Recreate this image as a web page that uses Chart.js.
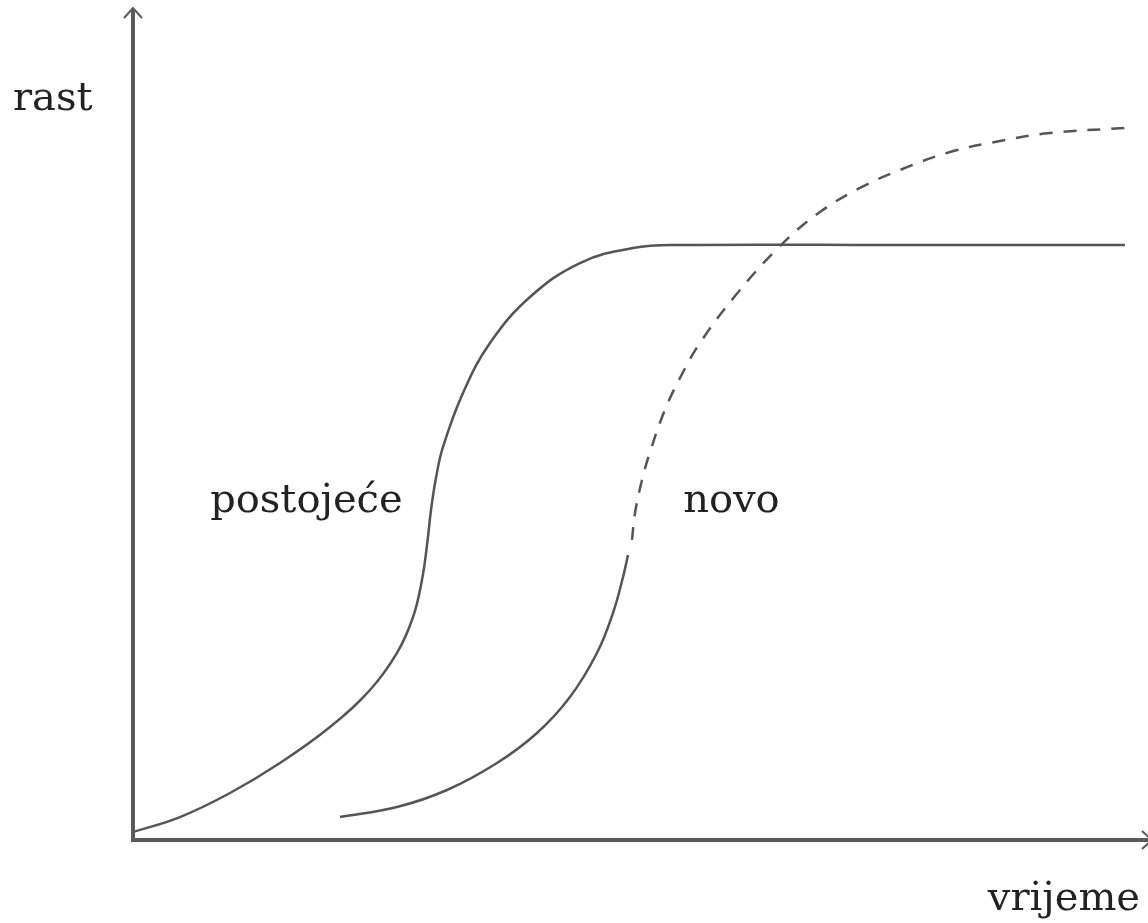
<!DOCTYPE html>
<html>
<head>
<meta charset="utf-8">
<script src="https://cdn.jsdelivr.net/npm/chart.js@4/dist/chart.umd.min.js"></script>
<style>
  body { margin: 0; background: #fff; }
  #wrap { width: 1148px; height: 923px; }
</style>
</head>
<body>
<div id="wrap"><canvas id="myChart" width="1148" height="923"></canvas></div>
<script>
// existing product curve (solid S-curve that levels off)
var postojeceX = [0, 4.63, 9.56, 14.48, 19.41, 23.35, 26.01, 27.59, 28.47, 28.97, 29.36, 29.85, 30.54, 32.51, 35.17, 39.11, 44.04, 49.26, 53.89, 75.57, 97.73];
var postojeceY = [0.96, 2.76, 5.65, 9.25, 13.58, 18.03, 22.48, 26.80, 31.25, 35.46, 39.66, 43.51, 47.24, 53.73, 59.74, 65.26, 69.35, 71.15, 71.51, 71.51, 71.51];

// new product, drawn part (solid)
var novoX = [20.39, 26.01, 30.94, 35.86, 39.80, 43.05, 45.71, 47.29, 48.28, 48.77];
var novoY = [2.76, 3.97, 6.01, 9.25, 12.86, 17.19, 22.48, 27.28, 31.61, 34.25];

// new product, expected part (dashed)
var novoDashX = [49.16, 49.46, 50.15, 50.94, 52.32, 53.89, 55.86, 59.31, 63.74, 67.68, 71.63, 75.57, 80.49, 85.42, 90.34, 97.73];
var novoDashY = [36.06, 39.30, 43.27, 46.63, 51.44, 55.53, 59.74, 65.38, 71.39, 75.48, 78.37, 80.53, 82.69, 84.01, 84.98, 85.58];

var labels = ["postojeće", "novo"]; // curve labels
var axisLabels = ["rast", "vrijeme"]; // y axis, x axis

function toPoints(xs, ys) { // zip the two arrays into {x,y}
    var pts = [];
    for (var i = 0; i < xs.length; i++) {
        pts.push({x: xs[i], y: ys[i]});
    }
    return pts;
}

var lineColor = '#555555';

// draws the two arrows and the texts
var axesPlugin = {
    id: 'axesPlugin',
    afterDraw: function(chart) {
        var c = chart.ctx;
        var a = chart.chartArea;
        var xs = chart.scales.x, ys = chart.scales.y;
        c.save();
        c.strokeStyle = '#5a5a5a';
        c.lineWidth = 4;
        c.lineCap = 'butt';
        // y axis
        c.beginPath();
        c.moveTo(a.left, a.bottom + 2);
        c.lineTo(a.left, a.top + 1);
        c.stroke();
        c.lineWidth = 2;
        c.beginPath();
        c.moveTo(a.left - 9, a.top + 10);
        c.lineTo(a.left, a.top);
        c.lineTo(a.left + 9, a.top + 10);
        c.stroke();
        // x axis
        c.lineWidth = 4;
        c.beginPath();
        c.moveTo(a.left - 2, a.bottom);
        c.lineTo(a.right + 4, a.bottom);
        c.stroke();
        c.lineWidth = 2;
        c.beginPath();
        c.moveTo(a.right - 6, a.bottom - 9);
        c.lineTo(a.right + 4, a.bottom);
        c.lineTo(a.right - 6, a.bottom + 9);
        c.stroke();

        // texts
        c.fillStyle = '#222222';
        c.font = '40px "DejaVu Serif"';
        c.textBaseline = 'alphabetic';
        c.textAlign = 'left';
        c.fillText(axisLabels[0], 13, 110);
        c.textAlign = 'right';
        c.fillText(axisLabels[1], a.right - 8, a.bottom + 70);
        c.textAlign = 'left';
        c.fillText(labels[0], xs.getPixelForValue(7.6), ys.getPixelForValue(39.4));
        c.fillText(labels[1], xs.getPixelForValue(54.2), ys.getPixelForValue(39.4));
        c.restore();
    }
};

var ctx = document.getElementById('myChart').getContext('2d');
var chart = new Chart(ctx, {
    type: 'scatter',
    data: {
        datasets: [{
            label: labels[0],
            data: toPoints(postojeceX, postojeceY),
            showLine: true,
            borderColor: lineColor,
            borderWidth: 2.5,
            pointRadius: 0,
            tension: 0.4
        }, {
            label: labels[1],
            data: toPoints(novoX, novoY),
            showLine: true,
            borderColor: lineColor,
            borderWidth: 2.5,
            pointRadius: 0,
            tension: 0.4
        }, {
            label: labels[1] + ' (dashed)',
            data: toPoints(novoDashX, novoDashY),
            showLine: true,
            borderColor: lineColor,
            borderWidth: 2.5,
            borderDash: [13, 11],
            pointRadius: 0,
            tension: 0.4
        }]
    },
    options: {
        responsive: false,
        animation: false,
        layout: { padding: { left: 133, right: 0, top: 8, bottom: 83 } },
        plugins: { legend: { display: false }, tooltip: { enabled: false } },
        scales: {
            x: { type: 'linear', min: 0, max: 100, display: false },
            y: { type: 'linear', min: 0, max: 100, display: false }
        }
    },
    plugins: [axesPlugin]
});
</script>
</body>
</html>
